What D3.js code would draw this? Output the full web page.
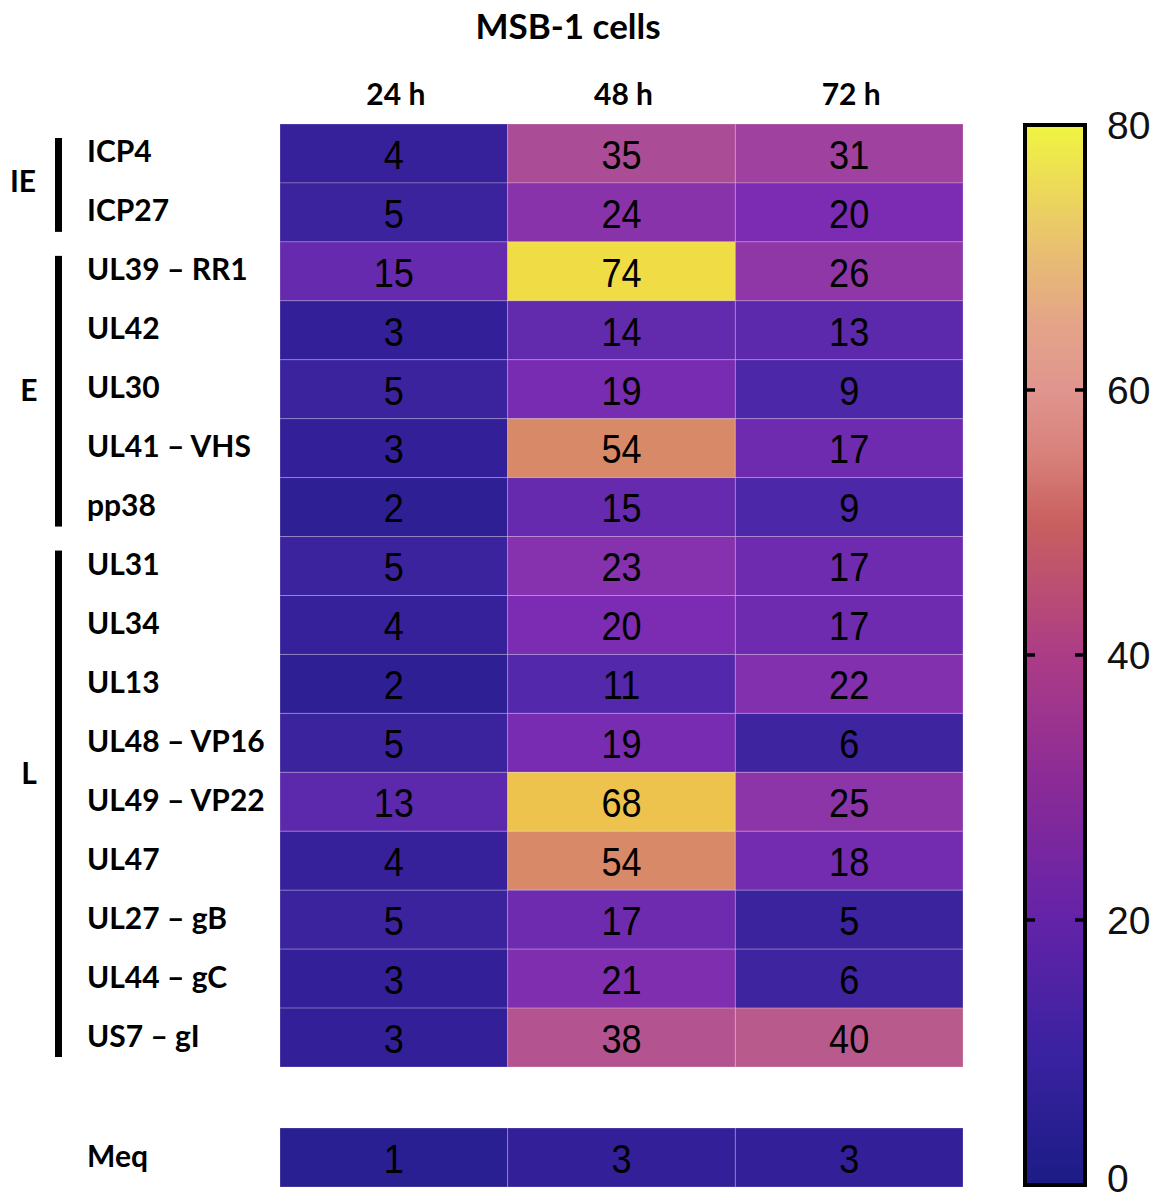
<!DOCTYPE html>
<html>
<head>
<meta charset="utf-8">
<script src="https://cdn.jsdelivr.net/npm/d3@7"></script>
<style>
  body { margin: 0; background: #fff; }
  svg { display: block; }
</style>
</head>
<body>
<svg id="chart" width="1157" height="1200"></svg>
<script>
// ---- data ----
const times = ['24 h', '48 h', '72 h'];
const genes = ['ICP4', 'ICP27', 'UL39 \u2013 RR1', 'UL42', 'UL30', 'UL41 \u2013 VHS', 'pp38',
  'UL31', 'UL34', 'UL13', 'UL48 \u2013 VP16', 'UL49 \u2013 VP22', 'UL47', 'UL27 \u2013 gB', 'UL44 \u2013 gC', 'US7 \u2013 gI'];
const v24 = [4, 5, 15, 3, 5, 3, 2, 5, 4, 2, 5, 13, 4, 5, 3, 3];
const v48 = [35, 24, 74, 14, 19, 54, 15, 23, 20, 11, 19, 68, 54, 17, 21, 38];
const v72 = [31, 20, 26, 13, 9, 17, 9, 17, 17, 22, 6, 25, 18, 5, 6, 40];
const meqLabel = 'Meq';
const meqValues = [1, 3, 3];
// groups: name, first gene index, last gene index
const groups = [['IE', 0, 1], ['E', 2, 6], ['L', 7, 15]];
const legendTicks = [0, 20, 40, 60, 80];

const cellStops = [0, 10, 20, 30, 40, 50, 60, 70, 80];
const cellColors = ['#261d90', '#5028a9', '#7c2cb2', '#9c3ea0', '#b95a8c', '#d27c6e', '#e0a060', '#f0cc48', '#f0f540'];
const barStops = [0, 10, 20, 30, 40, 50, 55, 60, 65, 70, 75, 80];
const barColors = ['#1c1c86', '#3a22a0', '#6323a8', '#8a2a98', '#ac3c86', '#c8605f', '#d8807a', '#e0958e', '#e4a488', '#e8bc74', '#ecd85a', '#f0f540'];

const svg = d3.select('#chart');
const font = 'Lato, "Open Sans", sans-serif';
const numFont = '"Liberation Sans", Arial, sans-serif';

const color = d3.scaleLinear().domain(cellStops).range(cellColors).clamp(true);
const barColor = d3.scaleLinear().domain(barStops).range(barColors);

const x = d3.scaleBand().domain(times).range([280, 963]);
const y = d3.scaleBand().domain(genes).range([124, 1067]);
const yMeq = d3.scaleBand().domain([meqLabel]).range([1128, 1187]);

// build cell table
const cells = [];
genes.forEach((g, i) => {
  [v24, v48, v72].forEach((arr, j) => cells.push({ row: g, col: times[j], v: arr[i], yS: y }));
});
meqValues.forEach((v, j) => cells.push({ row: meqLabel, col: times[j], v: v, yS: yMeq }));

// title
svg.append('text').attr('x', 568).attr('y', 25).attr('text-anchor', 'middle')
  .attr('dominant-baseline', 'central')
  .style('font-family', font).style('font-weight', 700).style('font-size', '35px')
  .text('MSB-1 cells');

// column headers
svg.append('g').selectAll('text').data(times).join('text')
  .attr('x', d => x(d) + x.bandwidth() / 2 + 2).attr('y', 93)
  .attr('text-anchor', 'middle').attr('dominant-baseline', 'central')
  .style('font-family', font).style('font-weight', 700).style('font-size', '30px')
  .text(d => d);

// cells
const cg = svg.append('g');
cg.selectAll('rect').data(cells).join('rect')
  .attr('x', d => x(d.col)).attr('y', d => d.yS(d.row))
  .attr('width', x.bandwidth()).attr('height', d => d.yS.bandwidth())
  .attr('fill', d => color(d.v))
  .attr('stroke', 'rgba(255,255,255,0.22)').attr('stroke-width', 1);

cg.selectAll('text').data(cells).join('text')
  .attr('transform', d => `translate(${x(d.col) + x.bandwidth() / 2},${d.yS(d.row) + d.yS.bandwidth() / 2 + 1}) scale(0.88,1)`)
  .attr('text-anchor', 'middle').attr('dominant-baseline', 'central')
  .style('font-family', numFont).style('font-size', '41px').attr('fill', '#000')
  .text(d => d.v);

// row labels
const rows = genes.map(g => ({ name: g, yc: y(g) + y.bandwidth() / 2 }))
  .concat([{ name: meqLabel, yc: yMeq(meqLabel) + yMeq.bandwidth() / 2 }]);
svg.append('g').selectAll('text').data(rows).join('text')
  .attr('x', 87).attr('y', d => d.yc - 3)
  .attr('dominant-baseline', 'central')
  .style('font-family', font).style('font-weight', 700).style('font-size', '30px')
  .text(d => d.name);

// group brackets
const gg = svg.append('g');
const barTop = d => y(genes[d[1]]) + 14;
const barBot = d => y(genes[d[2]]) + y.bandwidth() - 10;
gg.selectAll('rect').data(groups).join('rect')
  .attr('x', 55).attr('width', 7)
  .attr('y', barTop)
  .attr('height', d => barBot(d) - barTop(d))
  .attr('fill', '#000');
// the L label sits a little above its bracket's middle in the source figure
const labelShift = { IE: -3, E: 0, L: -30 };
gg.selectAll('text').data(groups).join('text')
  .attr('x', d => d[0] === 'IE' ? 23 : 29)
  .attr('y', d => (y(genes[d[1]]) + y(genes[d[2]]) + y.bandwidth()) / 2 + labelShift[d[0]])
  .attr('text-anchor', 'middle').attr('dominant-baseline', 'central')
  .style('font-family', font).style('font-weight', 700).style('font-size', '30px')
  .text(d => d[0]);

// colour bar
const cb = d3.scaleLinear().domain([0, 80]).range([1185, 125]);
const grad = svg.append('defs').append('linearGradient').attr('id', 'cbar')
  .attr('x1', 0).attr('y1', 1).attr('x2', 0).attr('y2', 0);
grad.selectAll('stop').data(barStops).join('stop')
  .attr('offset', d => d / 80).attr('stop-color', d => barColor(d));

svg.append('rect').attr('x', 1025).attr('y', cb(80)).attr('width', 60)
  .attr('height', cb(0) - cb(80)).attr('fill', 'url(#cbar)')
  .attr('stroke', '#000').attr('stroke-width', 4);

const tk = svg.append('g');
tk.selectAll('line.l').data(legendTicks.slice(1, -1)).join('line').attr('class', 'l')
  .attr('x1', 1025).attr('x2', 1035).attr('y1', d => cb(d)).attr('y2', d => cb(d))
  .attr('stroke', '#000').attr('stroke-width', 3.5);
tk.selectAll('line.r').data(legendTicks.slice(1, -1)).join('line').attr('class', 'r')
  .attr('x1', 1075).attr('x2', 1085).attr('y1', d => cb(d)).attr('y2', d => cb(d))
  .attr('stroke', '#000').attr('stroke-width', 3.5);
tk.selectAll('text').data(legendTicks).join('text')
  .attr('x', 1107).attr('y', d => Math.min(cb(d), 1178))
  .attr('dominant-baseline', 'central')
  .style('font-family', numFont).style('font-size', '39px').attr('fill', '#111')
  .text(d => d);
</script>
</body>
</html>
